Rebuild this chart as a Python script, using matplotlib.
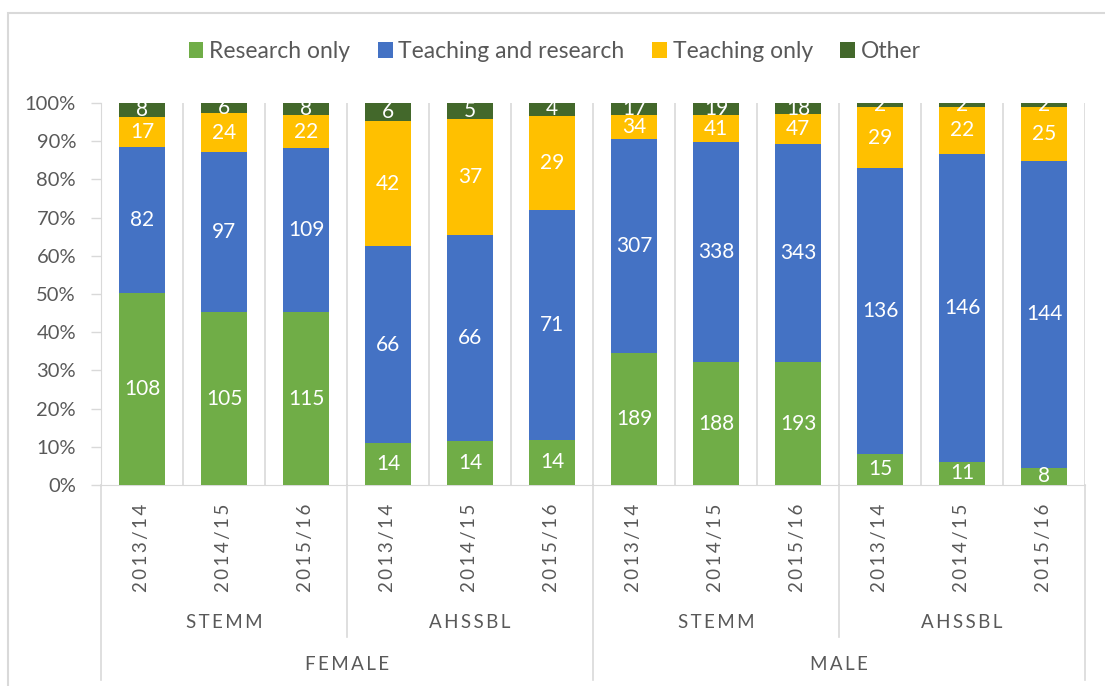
import numpy as np
import matplotlib
matplotlib.use('Agg')
import matplotlib.pyplot as plt
from matplotlib.patches import Rectangle
import matplotlib.transforms as mtransforms

plt.rcParams['font.family'] = ['Lato', 'DejaVu Sans']

# data (head counts)
years = ['2013/14', '2014/15', '2015/16'] * 4
fields = ['STEMM', 'AHSSBL', 'STEMM', 'AHSSBL']
genders = ['FEMALE', 'MALE']

research_only = [108, 105, 115, 14, 14, 14, 189, 188, 193, 15, 11, 8]
teach_research = [82, 97, 109, 66, 66, 71, 307, 338, 343, 136, 146, 144]
teach_only = [17, 24, 22, 42, 37, 29, 34, 41, 47, 29, 22, 25]
other = [8, 6, 8, 6, 5, 4, 17, 19, 18, 2, 2, 2]

series = [('Research only', research_only, '#70AD47'),
          ('Teaching and research', teach_research, '#4472C4'),
          ('Teaching only', teach_only, '#FFC000'),
          ('Other', other, '#43682B')]

grid_c = '#D9D9D9'
text_c = '#595959'
fs = 13.5


def spaced(s):
    return '\u2009'.join(s)


fig = plt.figure(figsize=(11.05, 6.86), dpi=100)
ax = fig.add_axes([101 / 1105, 1 - 485 / 686, (1085 - 101) / 1105, (485 - 103) / 686])

x = np.arange(len(years))
totals = np.sum([s[1] for s in series], axis=0)
bottom = np.zeros(len(x))
for name, vals, col in series:
    frac = np.array(vals) / totals
    ax.bar(x, frac, 0.56, bottom=bottom, color=col, label=name, zorder=3)
    for xi, b, f, v in zip(x, bottom, frac, vals):
        ax.text(xi, b + f / 2, str(v), ha='center', va='center',
                color='white', fontsize=15, zorder=4)
    bottom += frac

ax.set_xlim(-0.5, len(x) - 0.5)
ax.set_ylim(0, 1)
ax.set_yticks(np.arange(0, 1.01, 0.1))
ax.set_yticklabels(['{}%'.format(int(round(v * 100))) for v in np.arange(0, 1.01, 0.1)])
ax.tick_params(axis='y', colors=grid_c, labelcolor=text_c, labelsize=14.5,
               length=7, width=1, pad=11)
ax.set_xticks([])
for sp in ['top', 'right']:
    ax.spines[sp].set_visible(False)
ax.spines['left'].set_color(grid_c)
ax.spines['bottom'].set_color(grid_c)

# category separators inside the plot
for b in np.arange(0.5, len(x) - 0.5 + 0.01, 1):
    ax.axvline(b, color=grid_c, lw=1.2, zorder=1)

# multi-level category labels
trans = mtransforms.blended_transform_factory(ax.transData, ax.transAxes)
for xi, yr in zip(x, years):
    ax.text(xi, -0.165, spaced(yr), rotation=90, ha='center', va='center',
            color=text_c, fontsize=fs, transform=trans)
for i, f in enumerate(fields):
    ax.text(3 * i + 1, -0.361, spaced(f), ha='center', va='center',
            color=text_c, fontsize=fs, transform=trans)
for i, g in enumerate(genders):
    ax.text(6 * i + 2.5, -0.471, spaced(g), ha='center', va='center',
            color=text_c, fontsize=fs, transform=trans)

for b in [-0.5, 5.5, 11.5]:
    ax.plot([b, b], [0, -0.51], color=grid_c, lw=1.2, transform=trans, clip_on=False)
for b in [2.5, 8.5]:
    ax.plot([b, b], [0, -0.398], color=grid_c, lw=1.2, transform=trans, clip_on=False)

fig.legend(loc='center', bbox_to_anchor=(0.502, 0.925), ncol=4, frameon=False,
           fontsize=16.5, handlelength=0.65, handleheight=0.65, handletextpad=0.25,
           columnspacing=1.2, labelcolor=text_c)

# outer chart frame
fig.patches.append(Rectangle((8 / 1105, -0.1), 1.2, 1.1 - 13 / 686, transform=fig.transFigure,
                             fill=False, edgecolor=grid_c, lw=1.5))

fig.savefig('out.png', dpi=100)
